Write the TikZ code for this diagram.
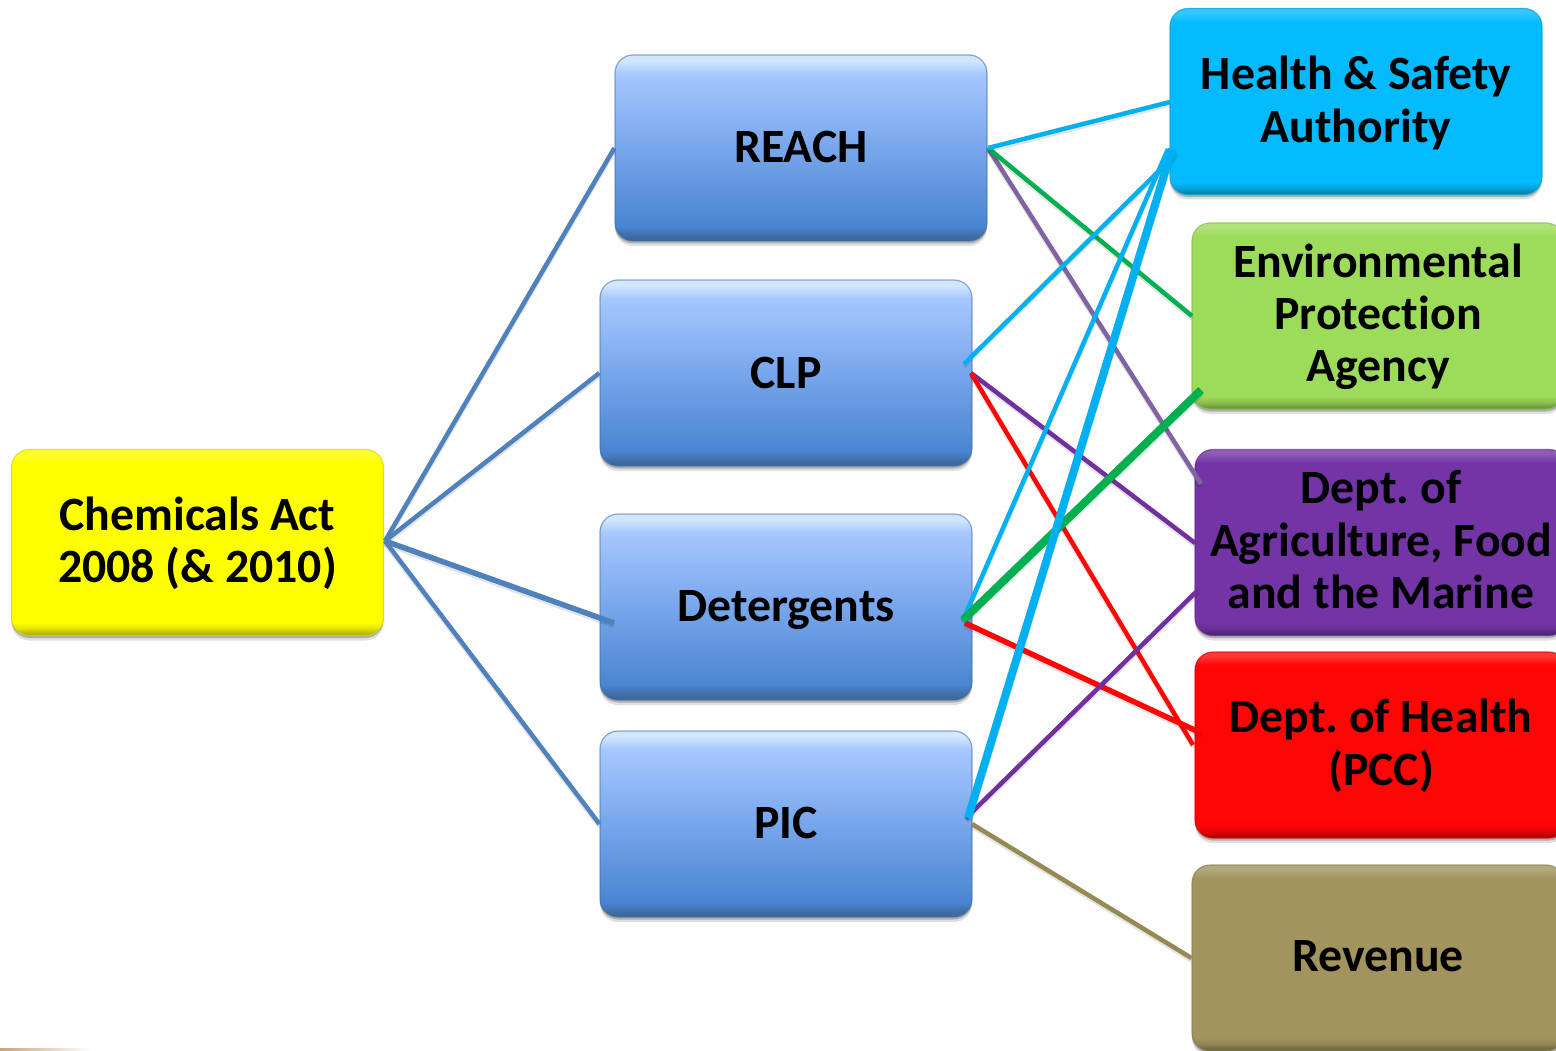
\documentclass[tikz,border=0pt]{standalone}
\usepackage{fontspec}
\setmainfont{Carlito}[BoldFont={Carlito Bold},Ligatures=NoCommon]
\usetikzlibrary{shadows}
\frenchspacing
\definecolor{bgc}{HTML}{FEFEFE}
\definecolor{cact}{HTML}{FFFF00}
\definecolor{chsa}{HTML}{04BBFF}
\definecolor{cepa}{HTML}{9DDB5A}
\definecolor{cag}{HTML}{7334A6}
\definecolor{cred}{HTML}{FF0505}
\definecolor{crev}{HTML}{A1945E}
\definecolor{lblue}{HTML}{4F81BD}
\definecolor{lcyan}{HTML}{00B0F0}
\definecolor{lgreen}{HTML}{00B050}
\definecolor{lpurp}{HTML}{8064A2}
\definecolor{ldpurp}{HTML}{7030A0}
\definecolor{lolive}{HTML}{948A54}
\definecolor{blueEdge}{HTML}{3F6A9E}
\definecolor{smudge}{HTML}{C9A27A}
\definecolor{bA}{HTML}{4A85D1}
\definecolor{bB}{HTML}{78A6EB}
\definecolor{bC}{HTML}{A6C7FF}
\definecolor{bD}{HTML}{D1E6FF}
% vertical shadings: 25bp = bottom of the box, 75bp = top of the box
\newcommand\mkshade[2]{\pgfdeclareverticalshading{#1}{100bp}{
  color(0bp)=(#2!70!black);color(25.5bp)=(#2!70!black);color(27bp)=(#2!90!black);color(28.5bp)=(#2);
  color(71.5bp)=(#2);color(74bp)=(#2!80!white);color(100bp)=(#2!80!white)}}
\mkshade{sact}{cact}
\mkshade{shsa}{chsa}
\mkshade{sepa}{cepa}
\mkshade{sag}{cag}
\mkshade{sred}{cred}
\mkshade{srev}{crev}
\pgfdeclareverticalshading{sblue}{100bp}{
  color(0bp)=(blueEdge);color(26bp)=(blueEdge);color(29bp)=(bA);
  color(50bp)=(bB);color(70bp)=(bC);
  color(73.5bp)=(bD);color(100bp)=(bD)}
% move a text block by #1 downward without changing the box size
\newcommand\dn[2]{\raisebox{-#1}[\height][\depth]{\begin{tabular}{@{}c@{}}#2\end{tabular}}}
\tikzset{
  box/.style={rounded corners=18pt,minimum width=372pt,minimum height=186pt,inner sep=0pt,
    align=center,font=\fontsize{47.8}{52.5}\selectfont\bfseries,
    drop shadow={shadow xshift=0pt,shadow yshift=-5pt,opacity=.12,fill=black},
    drop shadow={shadow xshift=0pt,shadow yshift=-2.5pt,opacity=.22,fill=black}},
  flatbox/.style n args={2}{box,draw=#1!85!black,draw opacity=.7,line width=1.2pt,shading=#2},
  bluebox/.style={box,draw=blueEdge,draw opacity=.55,line width=1.2pt,shading=sblue},
  link/.style={line width=#1,line cap=butt,
    preaction={draw=black,draw opacity=.10,line width=#1,transform canvas={yshift=-2.5pt}}},
  link/.default=4.5pt
}
\begin{document}
\begin{tikzpicture}[x=1pt,y=-1pt]
\clip (0,0) rectangle (1556,1051);
\fill[bgc] (0,0) rectangle (1556,1051);
\shade[left color=smudge,right color=bgc] (0,1048.5) rectangle (90,1051);
\node[flatbox={cact}{sact}] (act) at (197.5,542.5) {\dn{3.5pt}{Chemicals Act\\2008 (\& 2010)}};
\node[bluebox] (reach) at (801,148) {\dn{4pt}{REACH}};
\node[bluebox] (clp) at (786,373) {\dn{5pt}{CLP}};
\node[bluebox] (det) at (786,607) {\dn{4pt}{Detergents}};
\node[bluebox] (pic) at (786,824) {\dn{4pt}{PIC}};
\node[flatbox={chsa}{shsa}] (hsa) at (1356,101.5) {\dn{4pt}{Health \& Safety\\Authority}};
\node[flatbox={cepa}{sepa}] (epa) at (1378,316) {\dn{3pt}{Environmental\\Protection\\Agency}};
\node[flatbox={cag}{sag}] (ag) at (1381,542.5) {\dn{3pt}{Dept. of\\Agriculture, Food\\and the Marine}};
\node[flatbox={cred}{sred}] (doh) at (1381,745) {\dn{3.5pt}{Dept. of Health\\(PCC)}};
\node[flatbox={crev}{srev}] (rev) at (1378,958) {\dn{3pt}{Revenue}};
% named connector ends
\coordinate (actE) at (385,541);
\coordinate (detL) at (614,623);
\coordinate (reachE) at (988,148);
\coordinate (hsaA) at (1170,102);
\coordinate (hsaB) at (1177,153);
\coordinate (hsaC) at (1168,149);
\coordinate (hsaD) at (1172,149);
\coordinate (epaA) at (1192,316);
\coordinate (epaB) at (1201,390);
\coordinate (agA) at (1201,484);
\coordinate (agB) at (1195,543);
\coordinate (agC) at (1199,589);
\coordinate (dohA) at (1193,745);
\coordinate (dohB) at (1201,733);
\coordinate (clpA) at (964,364);
\coordinate (clpB) at (971,373);
\coordinate (detA) at (963,620);
\coordinate (detB) at (965,623);
\coordinate (picA) at (968,818);
\coordinate (picB) at (966,818);
\coordinate (picC) at (972,824);
% trunk connectors
\draw[link,lblue] (actE) -- (reach.west);
\draw[link,lblue] (actE) -- (clp.west);
\draw[link=5.5pt,lblue] (actE) -- (detL);
\draw[link,lblue] (actE) -- (pic.west);
% reach
\draw[link,lpurp] (reachE) -- (agA);
\draw[link,lgreen] (reachE) -- (epaA);
\draw[link,lcyan] (reachE) -- (hsaA);
% clp
\draw[link,ldpurp] (clpB) -- (agB);
\draw[link,cred] (clpB) -- (dohA);
\draw[link,lcyan] (clpA) -- (hsaB);
% detergents
\draw[link=5.5pt,cred] (detB) -- (dohB);
\draw[link,lcyan] (detA) -- (hsaC);
\draw[link=8pt,lgreen] (detA) -- (epaB);
% pic
\draw[link,lolive] (picC) -- (rev.west);
\draw[link,ldpurp] (picB) -- (agC);
\draw[link=8pt,lcyan] (picA) -- (hsaD);
\end{tikzpicture}
\end{document}
